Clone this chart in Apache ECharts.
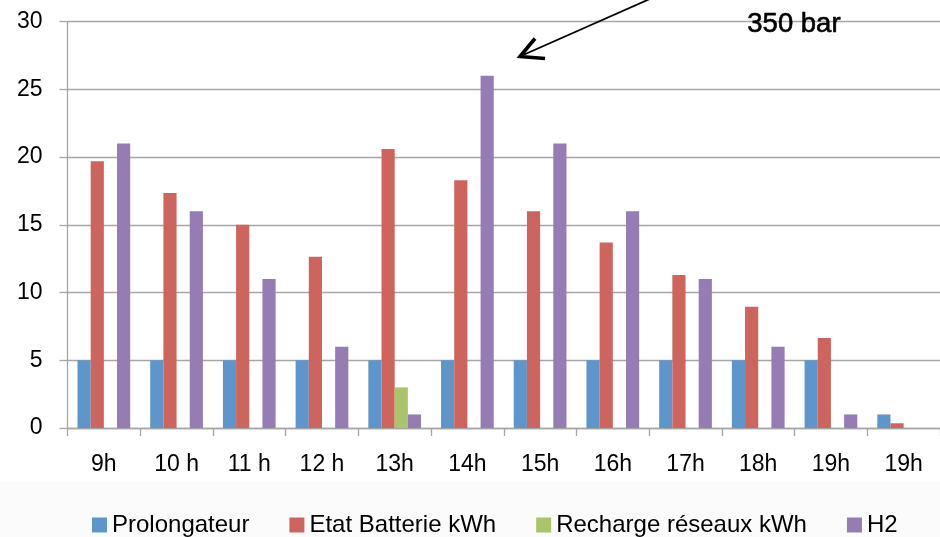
<!DOCTYPE html>
<html>
<head>
<meta charset="utf-8">
<script src="https://cdn.jsdelivr.net/npm/echarts@6/dist/echarts.min.js"></script>
<style>html,body{margin:0;padding:0;background:#fff}#c{width:940px;height:537px}</style>
</head>
<body>
<div id="c"></div>
<script>
const categories = ['9h','10 h','11 h','12 h','13h','14h','15h','16h','17h','18h','19h','19h'];
const prolongateur = [5,5,5,5,5,5,5,5,5,5,5,1];
const etatBatterie = [19.7,17.35,15,12.65,20.6,18.3,16,13.7,11.3,8.95,6.65,0.35];
const recharge = [0,0,0,0,3,0,0,0,0,0,0,0];
const h2 = [21,16,11,6,1,26,21,16,11,6,1,0];
const seriesNames = ['Prolongateur','Etat Batterie kWh','Recharge réseaux kWh','H2'];
const yTicks = [0,5,10,15,20,25,30];

const colors = ['#5E96CB','#CD655E','#A9C46A','#957CB2'];
const font = 'Liberation Sans, Arial, sans-serif';

const chart = echarts.init(document.getElementById('c'), null, {renderer:'canvas'});
const data = [prolongateur, etatBatterie, recharge, h2];
chart.setOption({
  animation:false,
  backgroundColor:'#ffffff',
  color: colors,
  grid:{left:67.5, top:21.7, width:884, height:406.3, containLabel:false},
  legend:{
    left:92, top:513, padding:0, itemWidth:15, itemHeight:15, itemGap:40,
    icon:'rect',
    textStyle:{fontFamily:font, fontSize:24, color:'#000'},
    data: seriesNames
  },
  xAxis:{
    type:'category', data:categories, boundaryGap:true,
    axisLine:{lineStyle:{color:'#a6a6a6', width:1.3}},
    axisTick:{show:true, length:8, lineStyle:{color:'#a6a6a6', width:1.3}},
    axisLabel:{fontFamily:font, fontSize:23, color:'#000', margin:25, interval:0}
  },
  yAxis:{
    type:'value', min:yTicks[0], max:yTicks[yTicks.length-1], interval:5,
    axisLine:{show:true, lineStyle:{color:'#a6a6a6', width:1.3}},
    axisTick:{show:true, length:8, lineStyle:{color:'#a6a6a6', width:1.3}},
    splitLine:{lineStyle:{color:'#a6a6a6', width:1.3}},
    axisLabel:{fontFamily:font, fontSize:23, color:'#000', margin:25}
  },
  series: seriesNames.map((n,i)=>({
    name:n, type:'bar', data:data[i], barGap:'0%', barCategoryGap:'27.5%',
    itemStyle:{color:colors[i]}
  })),
  graphic:[
    {type:'rect', z:-10, shape:{x:0,y:481,width:940,height:56}, style:{fill:'#fbfbfb'}},
    {type:'line', z:100, shape:{x1:652,y1:-2,x2:522,y2:55.5}, style:{stroke:'#000', lineWidth:1.8}},
    {type:'polyline', z:100, shape:{points:[[545,58.5],[520,56.5],[535,38.5]]}, style:{stroke:'#000', lineWidth:3.6, fill:null, lineJoin:'miter'}},
    {type:'text', z:100, left:747, top:10, style:{text:'350 bar', fontFamily:font, fontSize:27.5, fill:'#000', stroke:'#000', lineWidth:0.6}}
  ]
});
</script>
</body>
</html>
